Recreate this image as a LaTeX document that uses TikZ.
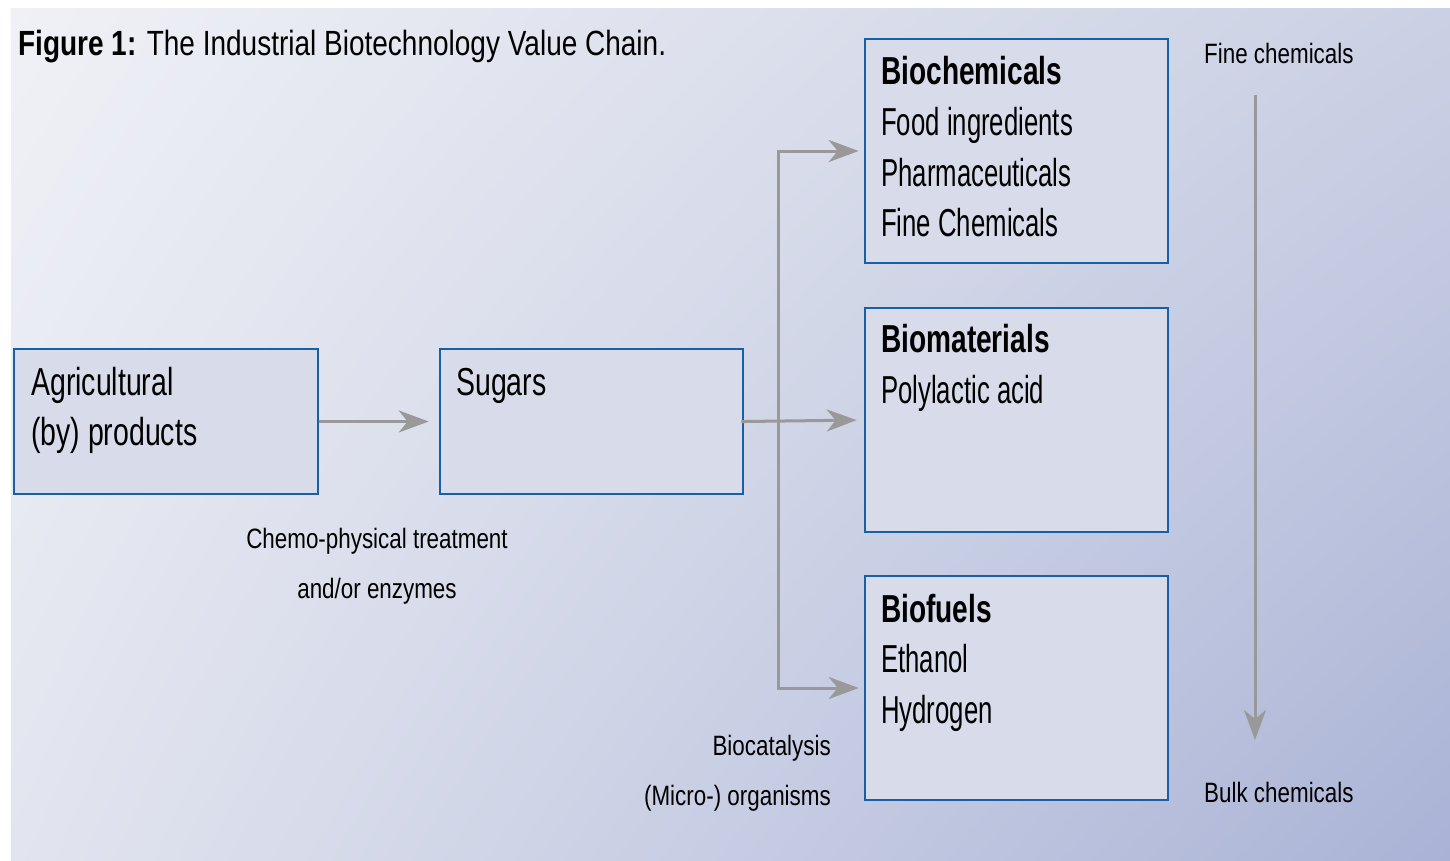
\documentclass[tikz,border=0pt]{standalone}
\usepackage{fontspec}
\setmainfont{Liberation Sans}[FakeStretch=0.66, BoldFeatures={FakeStretch=0.72}]
\newfontfamily\widefont{Liberation Sans}[FakeStretch=0.8]
\newfontfamily\midfont{Liberation Sans}[FakeStretch=0.73]
\usetikzlibrary{arrows.meta,shadings}
\definecolor{bgA}{HTML}{F0F1F6}
\definecolor{bgB}{HTML}{CBD1E4}
\definecolor{bgC}{HTML}{E2E5EF}
\definecolor{bgD}{HTML}{AAB3D6}
\definecolor{boxfill}{HTML}{D8DCEA}
\definecolor{boxline}{HTML}{1760A4}
\definecolor{arrgray}{HTML}{999999}
\tikzset{
  box/.style={draw=boxline, line width=2.6pt, fill=boxfill, rectangle, inner sep=0pt},
  big/.style={anchor=base west, inner sep=0pt, font=\fontsize{39}{39}\selectfont},
  bigmid/.style={big, font=\midfont\fontsize{39}{39}\selectfont},
  small/.style={anchor=base west, inner sep=0pt, font=\widefont\fontsize{28}{28}\selectfont},
  conn/.style={draw=arrgray, line width=3pt},
  arr/.style={conn, -{Stealth[length=30pt, width=22pt, inset=9pt]}},
}
\begin{document}
\begin{tikzpicture}[x=1pt, y=-1pt]
\useasboundingbox (0,0) rectangle (1450,860);
\fill[white] (0,0) rectangle (1450,860);
\shade[upper left=bgA, upper right=bgB, lower left=bgC, lower right=bgD] (11,8) rectangle (1450,860);

% title
\node[anchor=base west, inner sep=0pt, font=\widefont\fontsize{35}{35}\selectfont] (title) at (18,55) {\textbf{Figure 1:} The Industrial Biotechnology Value Chain.};

% boxes
\node[box, minimum width=304pt, minimum height=145pt] (agri) at (166,421.5) {};
\node[box, minimum width=303pt, minimum height=145pt] (sugars) at (591.5,421.5) {};
\node[box, minimum width=303pt, minimum height=224pt] (biochem) at (1016.5,151) {};
\node[box, minimum width=303pt, minimum height=224pt] (biomat) at (1016.5,420) {};
\node[box, minimum width=303pt, minimum height=224pt] (biofuel) at (1016.5,688) {};

% box texts
\node[bigmid] (t1) at (31,395) {Agricultural};
\node[bigmid] (t2) at (31,445) {(by) products};
\node[bigmid] (t3) at (456,395) {Sugars};
\node[big] (t4) at (881,84) {\textbf{Biochemicals}};
\node[big] (t5) at (881,135) {Food ingredients};
\node[big] (t6) at (881,186) {Pharmaceuticals};
\node[big] (t7) at (881,236) {Fine Chemicals};
\node[big] (t8) at (881,352) {\textbf{Biomaterials}};
\node[big] (t9) at (881,403) {Polylactic acid};
\node[big] (t10) at (881,622) {\textbf{Biofuels}};
\node[big] (t11) at (881,672) {Ethanol};
\node[big] (t12) at (881,723) {Hydrogen};

% side labels
\node[small, anchor=base] (l1) at (377,548) {Chemo-physical treatment};
\node[small, anchor=base] (l2) at (377,598) {and/or enzymes};
\node[small, anchor=base east] (l3) at (831,755) {Biocatalysis};
\node[small, anchor=base east] (l4) at (831,805) {(Micro-) organisms};
\node[small] (l5) at (1204,63) {Fine chemicals};
\node[small] (l6) at (1204,802) {Bulk chemicals};

% connectors
\draw[arr, shorten >=10pt] (agri.east) -- (sugars.west);
\draw[arr, shorten <=-3pt, shorten >=7pt] (sugars.east) -- (biomat.west);
\coordinate (split) at (778,421);
\draw[arr, shorten >=5pt] (split) |- (biochem.west);
\draw[arr, shorten >=5pt] (split) |- (biofuel.west);
\coordinate (scaleTop) at (1255,95);
\coordinate (scaleBot) at (1255,740);
\draw[arr] (scaleTop) -- (scaleBot);
\end{tikzpicture}
\end{document}
